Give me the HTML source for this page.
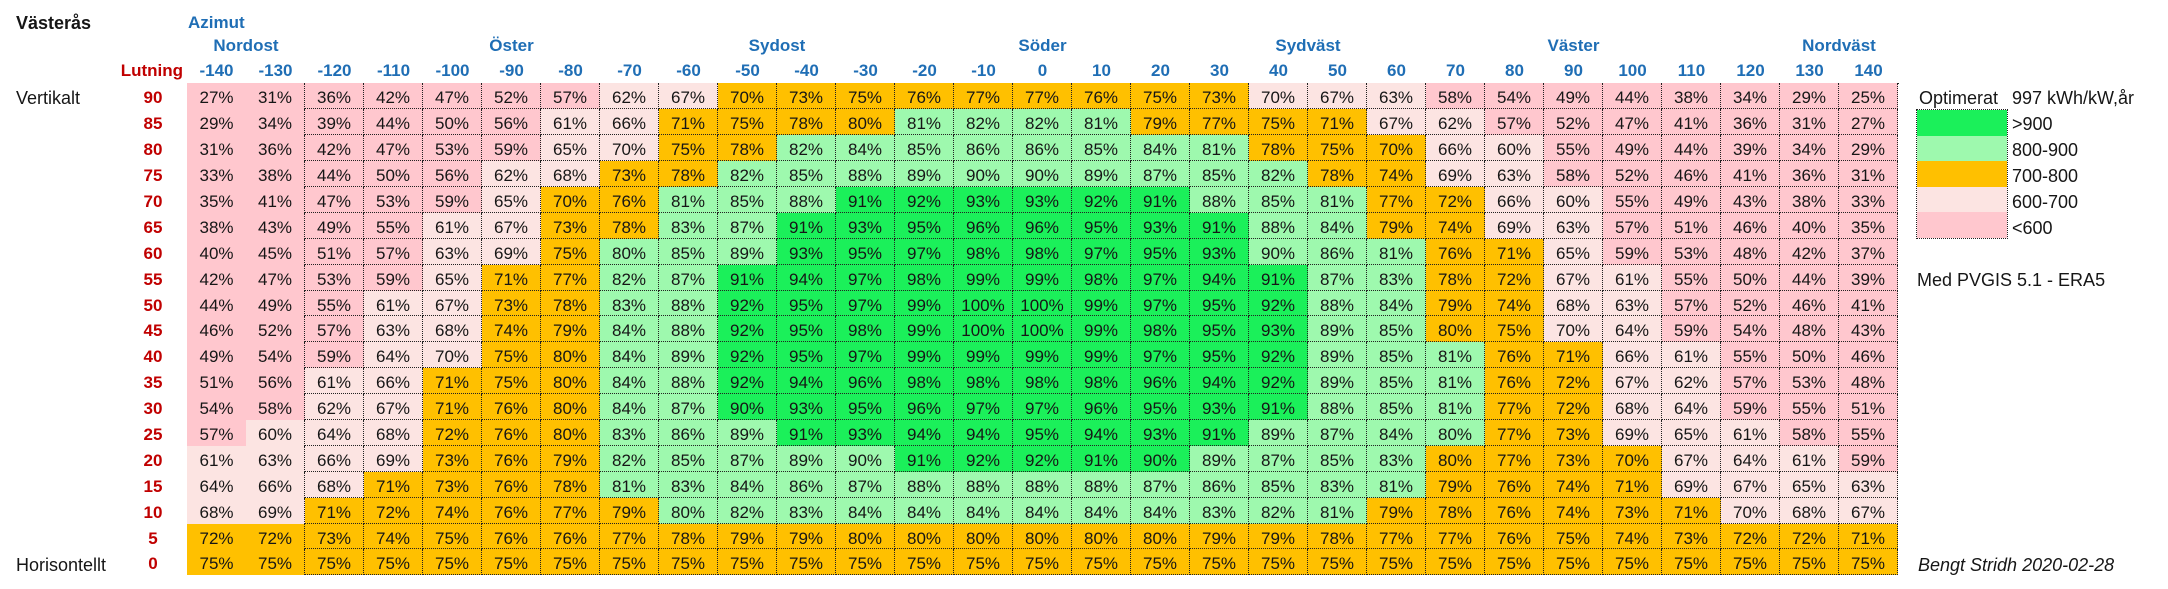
<!DOCTYPE html>
<html><head><meta charset="utf-8">
<style>
body{margin:0;width:2168px;height:589px;background:#fff;position:relative;overflow:hidden;font-family:"Liberation Sans",sans-serif;color:#161616}
.a{position:absolute;white-space:nowrap}
.grid{position:absolute;left:187px;top:83.4px;display:grid;grid-template-columns:repeat(29,59px);grid-template-rows:repeat(19,25.9px)}
.grid>div{box-sizing:border-box;border-right:1px dotted #222;border-bottom:1px dotted #222;text-align:center;font-size:17px;line-height:24px;padding-top:3px;overflow:hidden}
.grid>div:nth-child(29n+1){border:none}
.grid>div:nth-child(29n+2){border-bottom:none}
.p{background:#FFC7CE}.l{background:#FCE4E2}.o{background:#FFC000}.g{background:#9EF9AE}.b{background:#1BF05A}
.hdr{position:absolute;left:187px;top:58px;display:grid;grid-template-columns:repeat(29,59px);font-weight:bold;font-size:17px;color:#1F6EB5;text-align:center;line-height:26px}
.dir{position:absolute;top:33px;width:140px;text-align:center;font-weight:bold;font-size:17px;color:#1F6EB5;line-height:26px}
.rl{position:absolute;left:125px;top:83.4px;width:56px;display:grid;grid-template-rows:repeat(19,25.9px);font-weight:bold;font-size:17px;color:#C00000;text-align:center}
.rl>div{line-height:24px;padding-top:3px}
.lg{position:absolute;left:2012px;top:83.4px;display:grid;grid-template-rows:repeat(6,25.9px);font-size:18px}
.lg>div{line-height:24px;padding-top:3px}
</style></head><body>
<div class="a" style="left:16px;top:10px;line-height:26px;font-weight:bold;font-size:18px">Västerås</div>
<div class="a" style="left:188px;top:10px;line-height:26px;font-weight:bold;font-size:17px;color:#1F6EB5">Azimut</div>
<div class="dir" style="left:176px">Nordost</div>
<div class="dir" style="left:441.5px">Öster</div>
<div class="dir" style="left:707px">Sydost</div>
<div class="dir" style="left:972.5px">Söder</div>
<div class="dir" style="left:1238px">Sydväst</div>
<div class="dir" style="left:1503.5px">Väster</div>
<div class="dir" style="left:1769px">Nordväst</div>
<div class="a" style="left:90px;width:93px;text-align:right;top:58px;line-height:26px;font-weight:bold;font-size:17px;color:#C00000">Lutning</div>
<div class="hdr"><div>-140</div><div>-130</div><div>-120</div><div>-110</div><div>-100</div><div>-90</div><div>-80</div><div>-70</div><div>-60</div><div>-50</div><div>-40</div><div>-30</div><div>-20</div><div>-10</div><div>0</div><div>10</div><div>20</div><div>30</div><div>40</div><div>50</div><div>60</div><div>70</div><div>80</div><div>90</div><div>100</div><div>110</div><div>120</div><div>130</div><div>140</div></div>
<div class="a" style="left:16px;top:86.4px;line-height:24px;font-size:18px">Vertikalt</div>
<div class="a" style="left:16px;top:552.6px;line-height:24px;font-size:18px">Horisontellt</div>
<div class="rl"><div>90</div><div>85</div><div>80</div><div>75</div><div>70</div><div>65</div><div>60</div><div>55</div><div>50</div><div>45</div><div>40</div><div>35</div><div>30</div><div>25</div><div>20</div><div>15</div><div>10</div><div>5</div><div>0</div></div>
<div class="a" style="left:304px;top:83px;width:1595px;border-top:1px dotted #222"></div>
<div class="grid">
<div class="p">27%</div><div class="p">31%</div><div class="p">36%</div><div class="p">42%</div><div class="p">47%</div><div class="p">52%</div><div class="p">57%</div><div class="l">62%</div><div class="l">67%</div><div class="o">70%</div><div class="o">73%</div><div class="o">75%</div><div class="o">76%</div><div class="o">77%</div><div class="o">77%</div><div class="o">76%</div><div class="o">75%</div><div class="o">73%</div><div class="l">70%</div><div class="l">67%</div><div class="l">63%</div><div class="p">58%</div><div class="p">54%</div><div class="p">49%</div><div class="p">44%</div><div class="p">38%</div><div class="p">34%</div><div class="p">29%</div><div class="p">25%</div>
<div class="p">29%</div><div class="p">34%</div><div class="p">39%</div><div class="p">44%</div><div class="p">50%</div><div class="p">56%</div><div class="l">61%</div><div class="l">66%</div><div class="o">71%</div><div class="o">75%</div><div class="o">78%</div><div class="o">80%</div><div class="g">81%</div><div class="g">82%</div><div class="g">82%</div><div class="g">81%</div><div class="o">79%</div><div class="o">77%</div><div class="o">75%</div><div class="o">71%</div><div class="l">67%</div><div class="l">62%</div><div class="p">57%</div><div class="p">52%</div><div class="p">47%</div><div class="p">41%</div><div class="p">36%</div><div class="p">31%</div><div class="p">27%</div>
<div class="p">31%</div><div class="p">36%</div><div class="p">42%</div><div class="p">47%</div><div class="p">53%</div><div class="p">59%</div><div class="l">65%</div><div class="l">70%</div><div class="o">75%</div><div class="o">78%</div><div class="g">82%</div><div class="g">84%</div><div class="g">85%</div><div class="g">86%</div><div class="g">86%</div><div class="g">85%</div><div class="g">84%</div><div class="g">81%</div><div class="o">78%</div><div class="o">75%</div><div class="o">70%</div><div class="l">66%</div><div class="l">60%</div><div class="p">55%</div><div class="p">49%</div><div class="p">44%</div><div class="p">39%</div><div class="p">34%</div><div class="p">29%</div>
<div class="p">33%</div><div class="p">38%</div><div class="p">44%</div><div class="p">50%</div><div class="p">56%</div><div class="l">62%</div><div class="l">68%</div><div class="o">73%</div><div class="o">78%</div><div class="g">82%</div><div class="g">85%</div><div class="g">88%</div><div class="g">89%</div><div class="g">90%</div><div class="g">90%</div><div class="g">89%</div><div class="g">87%</div><div class="g">85%</div><div class="g">82%</div><div class="o">78%</div><div class="o">74%</div><div class="l">69%</div><div class="l">63%</div><div class="p">58%</div><div class="p">52%</div><div class="p">46%</div><div class="p">41%</div><div class="p">36%</div><div class="p">31%</div>
<div class="p">35%</div><div class="p">41%</div><div class="p">47%</div><div class="p">53%</div><div class="p">59%</div><div class="l">65%</div><div class="o">70%</div><div class="o">76%</div><div class="g">81%</div><div class="g">85%</div><div class="g">88%</div><div class="b">91%</div><div class="b">92%</div><div class="b">93%</div><div class="b">93%</div><div class="b">92%</div><div class="b">91%</div><div class="g">88%</div><div class="g">85%</div><div class="g">81%</div><div class="o">77%</div><div class="o">72%</div><div class="l">66%</div><div class="l">60%</div><div class="p">55%</div><div class="p">49%</div><div class="p">43%</div><div class="p">38%</div><div class="p">33%</div>
<div class="p">38%</div><div class="p">43%</div><div class="p">49%</div><div class="p">55%</div><div class="l">61%</div><div class="l">67%</div><div class="o">73%</div><div class="o">78%</div><div class="g">83%</div><div class="g">87%</div><div class="b">91%</div><div class="b">93%</div><div class="b">95%</div><div class="b">96%</div><div class="b">96%</div><div class="b">95%</div><div class="b">93%</div><div class="b">91%</div><div class="g">88%</div><div class="g">84%</div><div class="o">79%</div><div class="o">74%</div><div class="l">69%</div><div class="l">63%</div><div class="p">57%</div><div class="p">51%</div><div class="p">46%</div><div class="p">40%</div><div class="p">35%</div>
<div class="p">40%</div><div class="p">45%</div><div class="p">51%</div><div class="p">57%</div><div class="l">63%</div><div class="l">69%</div><div class="o">75%</div><div class="g">80%</div><div class="g">85%</div><div class="g">89%</div><div class="b">93%</div><div class="b">95%</div><div class="b">97%</div><div class="b">98%</div><div class="b">98%</div><div class="b">97%</div><div class="b">95%</div><div class="b">93%</div><div class="g">90%</div><div class="g">86%</div><div class="g">81%</div><div class="o">76%</div><div class="o">71%</div><div class="l">65%</div><div class="p">59%</div><div class="p">53%</div><div class="p">48%</div><div class="p">42%</div><div class="p">37%</div>
<div class="p">42%</div><div class="p">47%</div><div class="p">53%</div><div class="p">59%</div><div class="l">65%</div><div class="o">71%</div><div class="o">77%</div><div class="g">82%</div><div class="g">87%</div><div class="b">91%</div><div class="b">94%</div><div class="b">97%</div><div class="b">98%</div><div class="b">99%</div><div class="b">99%</div><div class="b">98%</div><div class="b">97%</div><div class="b">94%</div><div class="b">91%</div><div class="g">87%</div><div class="g">83%</div><div class="o">78%</div><div class="o">72%</div><div class="l">67%</div><div class="l">61%</div><div class="p">55%</div><div class="p">50%</div><div class="p">44%</div><div class="p">39%</div>
<div class="p">44%</div><div class="p">49%</div><div class="p">55%</div><div class="l">61%</div><div class="l">67%</div><div class="o">73%</div><div class="o">78%</div><div class="g">83%</div><div class="g">88%</div><div class="b">92%</div><div class="b">95%</div><div class="b">97%</div><div class="b">99%</div><div class="b">100%</div><div class="b">100%</div><div class="b">99%</div><div class="b">97%</div><div class="b">95%</div><div class="b">92%</div><div class="g">88%</div><div class="g">84%</div><div class="o">79%</div><div class="o">74%</div><div class="l">68%</div><div class="l">63%</div><div class="p">57%</div><div class="p">52%</div><div class="p">46%</div><div class="p">41%</div>
<div class="p">46%</div><div class="p">52%</div><div class="p">57%</div><div class="l">63%</div><div class="l">68%</div><div class="o">74%</div><div class="o">79%</div><div class="g">84%</div><div class="g">88%</div><div class="b">92%</div><div class="b">95%</div><div class="b">98%</div><div class="b">99%</div><div class="b">100%</div><div class="b">100%</div><div class="b">99%</div><div class="b">98%</div><div class="b">95%</div><div class="b">93%</div><div class="g">89%</div><div class="g">85%</div><div class="o">80%</div><div class="o">75%</div><div class="l">70%</div><div class="l">64%</div><div class="p">59%</div><div class="p">54%</div><div class="p">48%</div><div class="p">43%</div>
<div class="p">49%</div><div class="p">54%</div><div class="p">59%</div><div class="l">64%</div><div class="l">70%</div><div class="o">75%</div><div class="o">80%</div><div class="g">84%</div><div class="g">89%</div><div class="b">92%</div><div class="b">95%</div><div class="b">97%</div><div class="b">99%</div><div class="b">99%</div><div class="b">99%</div><div class="b">99%</div><div class="b">97%</div><div class="b">95%</div><div class="b">92%</div><div class="g">89%</div><div class="g">85%</div><div class="g">81%</div><div class="o">76%</div><div class="o">71%</div><div class="l">66%</div><div class="l">61%</div><div class="p">55%</div><div class="p">50%</div><div class="p">46%</div>
<div class="p">51%</div><div class="p">56%</div><div class="l">61%</div><div class="l">66%</div><div class="o">71%</div><div class="o">75%</div><div class="o">80%</div><div class="g">84%</div><div class="g">88%</div><div class="b">92%</div><div class="b">94%</div><div class="b">96%</div><div class="b">98%</div><div class="b">98%</div><div class="b">98%</div><div class="b">98%</div><div class="b">96%</div><div class="b">94%</div><div class="b">92%</div><div class="g">89%</div><div class="g">85%</div><div class="g">81%</div><div class="o">76%</div><div class="o">72%</div><div class="l">67%</div><div class="l">62%</div><div class="p">57%</div><div class="p">53%</div><div class="p">48%</div>
<div class="p">54%</div><div class="p">58%</div><div class="l">62%</div><div class="l">67%</div><div class="o">71%</div><div class="o">76%</div><div class="o">80%</div><div class="g">84%</div><div class="g">87%</div><div class="b">90%</div><div class="b">93%</div><div class="b">95%</div><div class="b">96%</div><div class="b">97%</div><div class="b">97%</div><div class="b">96%</div><div class="b">95%</div><div class="b">93%</div><div class="b">91%</div><div class="g">88%</div><div class="g">85%</div><div class="g">81%</div><div class="o">77%</div><div class="o">72%</div><div class="l">68%</div><div class="l">64%</div><div class="p">59%</div><div class="p">55%</div><div class="p">51%</div>
<div class="p">57%</div><div class="l">60%</div><div class="l">64%</div><div class="l">68%</div><div class="o">72%</div><div class="o">76%</div><div class="o">80%</div><div class="g">83%</div><div class="g">86%</div><div class="g">89%</div><div class="b">91%</div><div class="b">93%</div><div class="b">94%</div><div class="b">94%</div><div class="b">95%</div><div class="b">94%</div><div class="b">93%</div><div class="b">91%</div><div class="g">89%</div><div class="g">87%</div><div class="g">84%</div><div class="g">80%</div><div class="o">77%</div><div class="o">73%</div><div class="l">69%</div><div class="l">65%</div><div class="l">61%</div><div class="p">58%</div><div class="p">55%</div>
<div class="l">61%</div><div class="l">63%</div><div class="l">66%</div><div class="l">69%</div><div class="o">73%</div><div class="o">76%</div><div class="o">79%</div><div class="g">82%</div><div class="g">85%</div><div class="g">87%</div><div class="g">89%</div><div class="g">90%</div><div class="b">91%</div><div class="b">92%</div><div class="b">92%</div><div class="b">91%</div><div class="b">90%</div><div class="g">89%</div><div class="g">87%</div><div class="g">85%</div><div class="g">83%</div><div class="o">80%</div><div class="o">77%</div><div class="o">73%</div><div class="o">70%</div><div class="l">67%</div><div class="l">64%</div><div class="l">61%</div><div class="p">59%</div>
<div class="l">64%</div><div class="l">66%</div><div class="l">68%</div><div class="o">71%</div><div class="o">73%</div><div class="o">76%</div><div class="o">78%</div><div class="g">81%</div><div class="g">83%</div><div class="g">84%</div><div class="g">86%</div><div class="g">87%</div><div class="g">88%</div><div class="g">88%</div><div class="g">88%</div><div class="g">88%</div><div class="g">87%</div><div class="g">86%</div><div class="g">85%</div><div class="g">83%</div><div class="g">81%</div><div class="o">79%</div><div class="o">76%</div><div class="o">74%</div><div class="o">71%</div><div class="l">69%</div><div class="l">67%</div><div class="l">65%</div><div class="l">63%</div>
<div class="l">68%</div><div class="l">69%</div><div class="o">71%</div><div class="o">72%</div><div class="o">74%</div><div class="o">76%</div><div class="o">77%</div><div class="o">79%</div><div class="g">80%</div><div class="g">82%</div><div class="g">83%</div><div class="g">84%</div><div class="g">84%</div><div class="g">84%</div><div class="g">84%</div><div class="g">84%</div><div class="g">84%</div><div class="g">83%</div><div class="g">82%</div><div class="g">81%</div><div class="o">79%</div><div class="o">78%</div><div class="o">76%</div><div class="o">74%</div><div class="o">73%</div><div class="o">71%</div><div class="l">70%</div><div class="l">68%</div><div class="l">67%</div>
<div class="o">72%</div><div class="o">72%</div><div class="o">73%</div><div class="o">74%</div><div class="o">75%</div><div class="o">76%</div><div class="o">76%</div><div class="o">77%</div><div class="o">78%</div><div class="o">79%</div><div class="o">79%</div><div class="o">80%</div><div class="o">80%</div><div class="o">80%</div><div class="o">80%</div><div class="o">80%</div><div class="o">80%</div><div class="o">79%</div><div class="o">79%</div><div class="o">78%</div><div class="o">77%</div><div class="o">77%</div><div class="o">76%</div><div class="o">75%</div><div class="o">74%</div><div class="o">73%</div><div class="o">72%</div><div class="o">72%</div><div class="o">71%</div>
<div class="o">75%</div><div class="o">75%</div><div class="o">75%</div><div class="o">75%</div><div class="o">75%</div><div class="o">75%</div><div class="o">75%</div><div class="o">75%</div><div class="o">75%</div><div class="o">75%</div><div class="o">75%</div><div class="o">75%</div><div class="o">75%</div><div class="o">75%</div><div class="o">75%</div><div class="o">75%</div><div class="o">75%</div><div class="o">75%</div><div class="o">75%</div><div class="o">75%</div><div class="o">75%</div><div class="o">75%</div><div class="o">75%</div><div class="o">75%</div><div class="o">75%</div><div class="o">75%</div><div class="o">75%</div><div class="o">75%</div><div class="o">75%</div>
</div>
<div class="a" style="left:1919px;top:86.4px;line-height:24px;font-size:18px">Optimerat</div>
<div class="a" style="left:1916px;top:109.3px;width:92px;height:129.5px;box-sizing:border-box;border:1px dotted #222;display:flex;flex-direction:column">
<div class="b" style="flex:1"></div><div class="g" style="flex:1"></div><div class="o" style="flex:1"></div><div class="l" style="flex:1"></div><div class="p" style="flex:1"></div>
</div>
<div class="lg"><div>997 kWh/kW,år</div><div>&gt;900</div><div>800-900</div><div>700-800</div><div>600-700</div><div>&lt;600</div></div>
<div class="a" style="left:1917px;top:267.7px;line-height:24px;font-size:18px">Med PVGIS 5.1 - ERA5</div>
<div class="a" style="left:1918px;top:552.6px;line-height:24px;font-size:18px;font-style:italic">Bengt Stridh 2020-02-28</div>
</body></html>
